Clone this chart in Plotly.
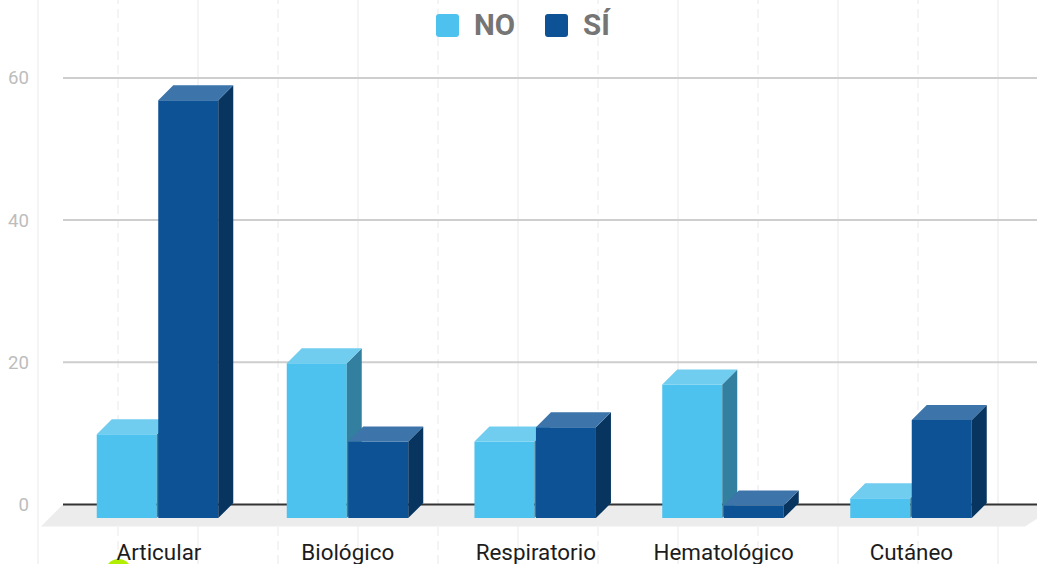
import numpy as np
import plotly.graph_objects as go

categories = ["Articular", "Biológico", "Respiratorio", "Hematológico", "Cutáneo"]
no_values = [10, 20, 9, 17, 1]
si_values = [57, 9, 11, 0, 12]
y_ticks = [0, 20, 40, 60]

W, H = 1037, 564
ML, MB = 34, 34
PW, PH = W - ML, H - MB
CENTER_PX = [157.5, 347.5, 535.2, 723.0, 911.0]
LABEL_PX = [159.0, 347.7, 535.8, 723.6, 911.4]
Y0_PX = 504.4
UNIT_PX = 7.107
BAR_PX = 60.0
GAP_PX = 1.5
DEPTH_PX = 15.0
BASE = -1.93
TOP_SHIFT = 1.0 / UNIT_PX

x_range = [ML, W]
y_range = [(Y0_PX - PH) / UNIT_PX, Y0_PX / UNIT_PX]
dy = DEPTH_PX / UNIT_PX
off = (BAR_PX + GAP_PX) / 2


def paper_x(p):
    return (p - ML) / PW


def paper_y(p):
    return (PH - p) / PH


def side_top(values, sign):
    sx, sy, tx, ty = [], [], [], []
    for c, val in zip(CENTER_PX, values):
        v = val - TOP_SHIFT
        l = c + sign * off - BAR_PX / 2
        r = l + BAR_PX
        d = DEPTH_PX
        sx += [r, r + d, r + d, r, r, None]
        sy += [BASE, BASE + dy, v + dy, v, BASE, None]
        tx += [l, l + d, r + d, r, l, None]
        ty += [v, v + dy, v + dy, v, v, None]
    return sx, sy, tx, ty


def add_series(name, values, sign, front, side, top, z):
    sx, sy, tx, ty = side_top(values, sign)
    fig.add_trace(go.Bar(
        x=np.array(CENTER_PX) + sign * off, y=np.array(values) - TOP_SHIFT - BASE, base=BASE,
        width=BAR_PX, name=name, marker=dict(color=front, line_width=0), zorder=z,
        showlegend=False))
    for fx, fy, c in ((sx, sy, side), (tx, ty, top)):
        fig.add_trace(go.Scatter(x=fx, y=fy, mode="lines", fill="toself", fillcolor=c,
                                 line=dict(width=0, color=c), name=name, hoverinfo="skip",
                                 zorder=z + 1, showlegend=False))


fig = go.Figure()

# floor
floor_y_low = -22 / UNIT_PX
fig.add_trace(go.Scatter(x=[63, 1060, 1025, 41, 63], y=[0, 0, floor_y_low, floor_y_low, 0],
                         mode="lines", fill="toself", fillcolor="#ECECEC",
                         line=dict(width=0, color="#ECECEC"), hoverinfo="skip", zorder=-2,
                         showlegend=False))
fig.add_trace(go.Scatter(x=[63, 1037], y=[0, 0], mode="lines",
                         line=dict(width=2, color="#333333"), hoverinfo="skip", zorder=-1,
                         showlegend=False))

add_series("NO", no_values, -1, "#4DC2EE", "#337F9F", "#70CDF0", 0)
add_series("SÍ", si_values, 1, "#0D5295", "#08355F", "#3D75AB", 2)

shapes = []
for t in y_ticks[1:]:
    shapes.append(dict(type="line", xref="x", yref="y", x0=63, x1=1037, y0=t, y1=t,
                       line=dict(color="#CECECE", width=2), layer="below"))
for k in range(7):
    xs = 38 + 160 * k
    shapes.append(dict(type="line", xref="paper", yref="paper", x0=paper_x(xs), x1=paper_x(xs),
                       y0=paper_y(564), y1=paper_y(0), line=dict(color="#F1F1F1", width=1.5),
                       layer="below"))
    xd = 118 + 160 * k
    if xd < W:
        shapes.append(dict(type="line", xref="paper", yref="paper", x0=paper_x(xd), x1=paper_x(xd),
                           y0=paper_y(564), y1=paper_y(0),
                           line=dict(color="#F1F1F1", width=1.5, dash="9px,5px"), layer="below"))

# green marker cut off by the page edge
shapes.append(dict(type="circle", xref="paper", yref="paper", x0=paper_x(105), x1=paper_x(132),
                   y0=paper_y(586), y1=paper_y(559), fillcolor="#B2EE00", line_width=0,
                   layer="below"))


def swatch(x0, color):
    r = 3
    s = 23
    y0 = 14
    return dict(type="path", xref="paper", yref="paper", xsizemode="pixel", ysizemode="pixel",
                xanchor=paper_x(x0), yanchor=paper_y(y0),
                path=(f"M {r} 0 L {s-r} 0 Q {s} 0 {s} {-r} L {s} {-(s-r)} Q {s} {-s} {s-r} {-s} "
                      f"L {r} {-s} Q 0 {-s} 0 {-(s-r)} L 0 {-r} Q 0 0 {r} 0 Z"),
                fillcolor=color, line_width=0)


shapes += [swatch(436, "#4DC2EE"), swatch(545, "#0D5295")]

annotations = [
    dict(text="<b>NO</b>", xref="paper", yref="paper", x=paper_x(471.5), y=paper_y(25),
         xanchor="left", yanchor="middle", showarrow=False,
         font=dict(family="Roboto", size=29.5, color="#757575")),
    dict(text="<b>SÍ</b>", xref="paper", yref="paper", x=paper_x(580.5), y=paper_y(25),
         xanchor="left", yanchor="middle", showarrow=False,
         font=dict(family="Roboto", size=29.5, color="#757575")),
]

fig.update_layout(
    width=W, height=H,
    margin=dict(l=ML, r=0, t=0, b=MB, autoexpand=False),
    paper_bgcolor="white", plot_bgcolor="rgba(0,0,0,0)",
    barmode="overlay", showlegend=False,
    shapes=shapes, annotations=annotations,
    xaxis=dict(range=x_range, tickvals=LABEL_PX, ticktext=categories,
               showgrid=False, zeroline=False, showline=False, ticks="", ticklabelstandoff=7,
               tickfont=dict(family="Roboto", size=22.4, color="#1C1C1C"), automargin=False),
    yaxis=dict(range=y_range, tickvals=y_ticks, showgrid=False, zeroline=False, showline=False,
               ticks="", ticklabelstandoff=4,
               tickfont=dict(family="Roboto", size=18.6, color="#BDBDBD"), automargin=False),
)

fig.write_html("out.html", config={"displayModeBar": False},
               post_script="document.body.style.margin='0';document.body.style.overflow='hidden';")
